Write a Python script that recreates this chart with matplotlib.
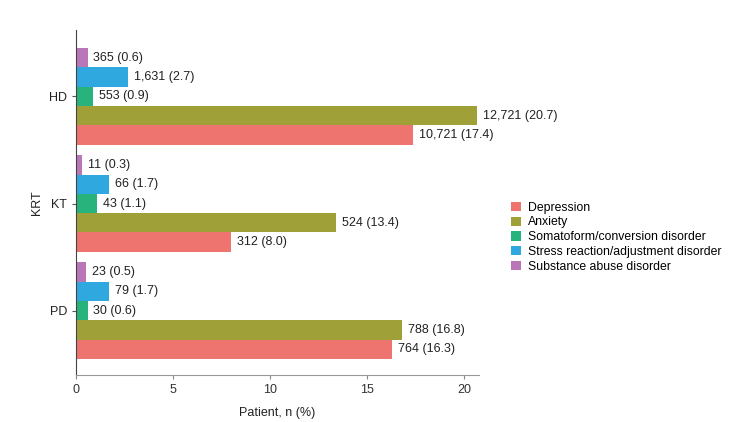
import numpy as np
import matplotlib
matplotlib.use('Agg')
from matplotlib import pyplot as plt
from matplotlib.patches import Patch

plt.rcParams['font.family'] = ['Liberation Sans', 'DejaVu Sans']

groups = ['PD', 'KT', 'HD']
disorders = ['Depression', 'Anxiety', 'Somatoform/conversion disorder',
             'Stress reaction/adjustment disorder', 'Substance abuse disorder']
colors = ['#EE746F', '#A0A038', '#27B37B', '#2FA8DF', '#B977B7']

# percent values per disorder, order PD, KT, HD
pct = [
    [16.3, 8.0, 17.4],
    [16.8, 13.4, 20.7],
    [0.6, 1.1, 0.9],
    [1.7, 1.7, 2.7],
    [0.5, 0.3, 0.6],
]
counts = [
    ['764', '312', '10,721'],
    ['788', '524', '12,721'],
    ['30', '43', '553'],
    ['79', '66', '1,631'],
    ['23', '11', '365'],
]

fig = plt.figure(figsize=(7.46, 4.22), dpi=100)
ax = fig.add_axes([0.1019, 0.1114, 0.540, 0.8176])

h = 0.18
y = np.arange(len(groups))
for i, d in enumerate(disorders):
    off = (i - 2) * h
    ax.barh(y + off, pct[i], height=h, color=colors[i], label=d)
    for j in range(len(groups)):
        ax.text(pct[i][j] + 0.3, y[j] + off, '%s (%.1f)' % (counts[i][j], pct[i][j]),
                va='center', ha='left', fontsize=9, color='#222222')

ax.set_xlim(0, 20.77)
ax.set_ylim(-0.6, 2.62)
ax.set_yticks(y)
ax.set_yticklabels(groups, fontsize=9)
ax.set_xticks([0, 5, 10, 15, 20])
ax.tick_params(axis='x', labelsize=9, length=3, color='#888888', labelcolor='#333333')
ax.tick_params(axis='y', length=3, color='#555555', labelcolor='#222222')
ax.set_xlabel('Patient, n (%)', fontsize=9, labelpad=8, color='#222222')
ax.set_ylabel('KRT', fontsize=9, color='#222222')

for s in ['top', 'right']:
    ax.spines[s].set_visible(False)
ax.spines['left'].set_color('#444444')
ax.spines['bottom'].set_color('#999999')

handles = [Patch(facecolor=c, edgecolor='none', label=d) for c, d in zip(colors, disorders)]
fig.legend(handles=handles, loc='center left', bbox_to_anchor=(0.677, 0.438),
           frameon=False, fontsize=8.8, handlelength=0.8, handleheight=0.8,
           handletextpad=0.6, labelspacing=0.22, borderpad=0)

fig.savefig('out.png', dpi=100)
